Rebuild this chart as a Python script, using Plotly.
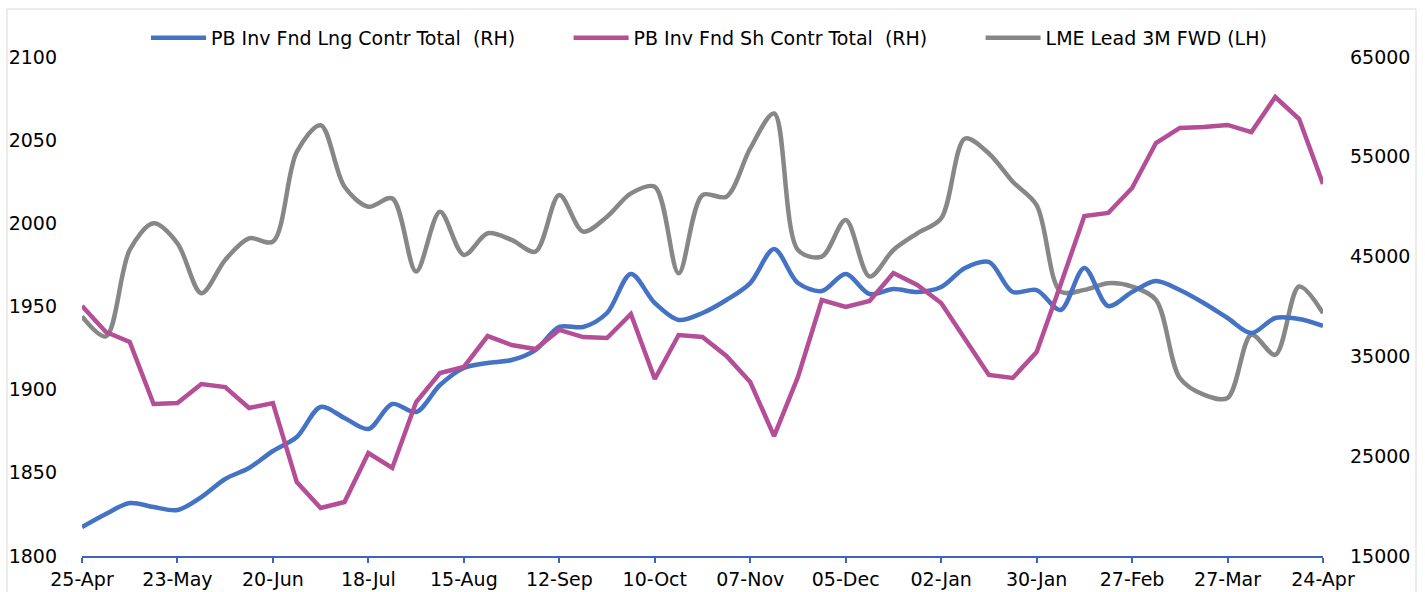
import pandas as pd
import plotly.graph_objects as go

# ---- data -------------------------------------------------------------
dates = pd.date_range("2022-04-25", periods=53, freq="7D")

lme_lead = [1944, 1932, 1984, 2000, 1988, 1958, 1978, 1991, 1989, 2043,
            2059, 2022, 2010, 2015, 1971, 2007, 1981, 1994, 1990, 1983,
            2017, 1995, 2004, 2018, 2022, 1970, 2017, 2016, 2045, 2066,
            1984, 1980, 2002, 1968, 1984, 1994, 2003, 2051, 2042, 2025,
            2011, 1959, 1960, 1964, 1962, 1954, 1907, 1897, 1895, 1933,
            1921, 1962, 1946]

long_total = [17900, 19210, 20310, 19910, 19610, 20910, 22720, 23820, 25520, 26920,
              29930, 28830, 27730, 30230, 29430, 32130, 33840, 34340, 34640, 35640,
              37950, 37950, 39350, 43260, 40350, 38650, 39350, 40650, 42350, 45760,
              42350, 41550, 43260, 41250, 41750, 41450, 41950, 43860, 44460, 41450,
              41650, 39650, 43860, 40050, 41450, 42560, 41650, 40350, 38850, 37340,
              38850, 38750, 38050]

short_total = [40050, 37450, 36440, 30230, 30330, 32230, 31930, 29830, 30330, 22410,
               19810, 20410, 25320, 23820, 30430, 33340, 33940, 37040, 36140, 35740,
               37650, 36940, 36840, 39250, 32740, 37140, 36940, 35040, 32430, 27020,
               32940, 40650, 39950, 40550, 43360, 42150, 40350, 36740, 33140, 32840,
               35440, 42150, 49070, 49370, 51870, 56380, 57890, 57990, 58190, 57480,
               60990, 58790, 52270]

tick_dates = ["2022-04-25", "2022-05-23", "2022-06-20", "2022-07-18", "2022-08-15",
              "2022-09-12", "2022-10-10", "2022-11-07", "2022-12-05", "2023-01-02",
              "2023-01-30", "2023-02-27", "2023-03-27", "2023-04-24"]
tick_labels = ["25-Apr", "23-May", "20-Jun", "18-Jul", "15-Aug", "12-Sep", "10-Oct",
               "07-Nov", "05-Dec", "02-Jan", "30-Jan", "27-Feb", "27-Mar", "24-Apr"]

left_ticks = [1800, 1850, 1900, 1950, 2000, 2050, 2100]
right_ticks = [15000, 25000, 35000, 45000, 55000, 65000]

names = ["PB Inv Fnd Lng Contr Total\u00a0\u00a0(RH)",
         "PB Inv Fnd Sh Contr Total\u00a0\u00a0(RH)",
         "LME Lead 3M FWD (LH)"]
PAD = "\u00a0" * 8   # spacing between legend entries

# ---- figure -----------------------------------------------------------
FONT = "DejaVu Sans"
FS = 19
fig = go.Figure()

fig.add_trace(go.Scatter(x=dates, y=lme_lead, name=names[2], mode="lines",
                         line=dict(color="#878787", width=4.5, shape="spline", smoothing=0.9),
                         yaxis="y", legendrank=3))
fig.add_trace(go.Scatter(x=dates, y=long_total, name=names[0] + PAD, mode="lines",
                         line=dict(color="#4472C4", width=4.5, shape="spline", smoothing=0.9),
                         yaxis="y2", legendrank=1))
fig.add_trace(go.Scatter(x=dates, y=short_total, name=names[1] + PAD, mode="lines",
                         line=dict(color="#B44E97", width=4.5),
                         yaxis="y2", legendrank=2))

L, R, T, B = 82, 102, 57, 36
W, H = 1425, 592
pw, ph = W - L - R, H - T - B

fig.update_layout(
    width=W, height=H,
    margin=dict(l=L, r=R, t=T, b=B, autoexpand=False),
    paper_bgcolor="white", plot_bgcolor="white",
    font=dict(family=FONT, size=FS, color="#000000"),
    showlegend=True,
    legend=dict(orientation="h", x=(146 - L) / pw, xanchor="left",
                y=1 + (T - 38) / ph, yanchor="middle",
                font=dict(family=FONT, size=FS, color="#000000"),
                itemwidth=55,
                bgcolor="rgba(0,0,0,0)", traceorder="normal"),
    xaxis=dict(type="date", range=[dates[0], dates[-1]],
               tickvals=tick_dates, ticktext=tick_labels,
               showgrid=False, zeroline=False,
               showline=True, linecolor="#4063C0", linewidth=1.5,
               ticks="outside", ticklen=5, tickcolor="#4063C0", tickwidth=1.5,
               tickfont=dict(family=FONT, size=FS, color="#000000")),
    yaxis=dict(range=[1800, 2100], tickvals=left_ticks,
               ticktext=[str(v) for v in left_ticks], showgrid=False,
               zeroline=False, showline=False, ticks="",
               ticklabelstandoff=24,
               tickfont=dict(family=FONT, size=FS, color="#000000")),
    yaxis2=dict(range=[15000, 65000], tickvals=right_ticks,
                ticktext=[str(v) for v in right_ticks], overlaying="y",
                side="right", showgrid=False, zeroline=False, showline=False,
                ticks="", ticklabelstandoff=26,
                tickfont=dict(family=FONT, size=FS, color="#000000")),
)

# light chart border
fig.add_shape(type="rect", xref="paper", yref="paper",
              x0=(7 - L) / pw, x1=(1416 - L) / pw,
              y0=-(H + 10 - (H - B)) / ph, y1=1 + (T - 9) / ph,
              line=dict(color="#D9D9D9", width=1), fillcolor="rgba(0,0,0,0)",
              layer="below")

fig.write_html("out.html", config={"displayModeBar": False},
               post_script="document.body.style.margin='0';"
                           "document.body.style.overflow='hidden';")
